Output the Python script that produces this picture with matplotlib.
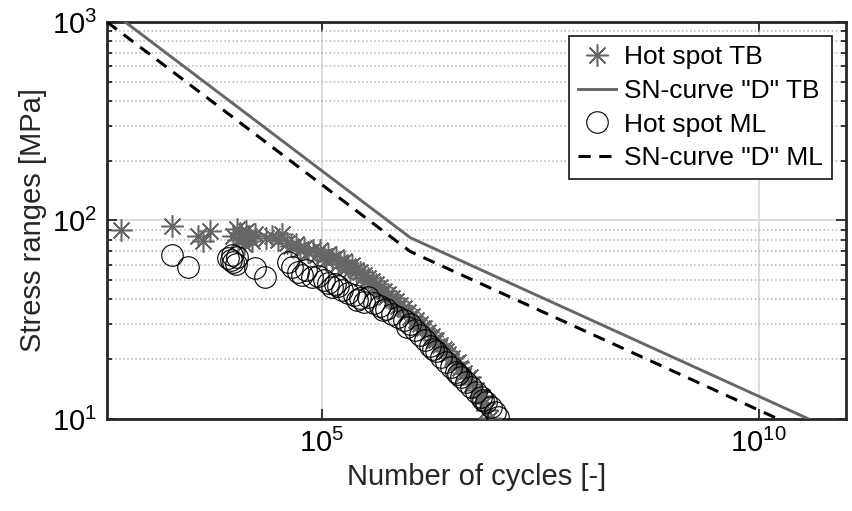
import numpy as np
import matplotlib
matplotlib.use("Agg")
import matplotlib.pyplot as plt
from matplotlib.ticker import FixedLocator, NullLocator, LogLocator

plt.rcParams["font.family"] = ["Liberation Sans", "DejaVu Sans"]
plt.rcParams["mathtext.fontset"] = "custom"
plt.rcParams["mathtext.rm"] = "Liberation Sans"
plt.rcParams["mathtext.it"] = "Liberation Sans:italic"
plt.rcParams["mathtext.bf"] = "Liberation Sans:bold"

# --- data ---
# Hot spot TB (stress range vs. cumulative number of cycles)
cycles_tb = [502, 1930, 3830, 4365, 5250, 9640, 10700, 11600, 12540, 13580,
             14690, 15920, 17220, 12880, 11000, 23010, 26980, 31550, 35080, 40090,
             44460, 50800, 56400, 62700, 69700, 79400, 88300, 95700, 106200, 118000,
             131200, 145900, 162200, 179900, 200000, 222300, 247200, 274800, 305500, 338800,
             376700, 418800, 465600, 517600, 574100, 638300, 709600, 788900, 877000, 975000,
             1.081e6, 1.202e6, 1.337e6, 1.486e6, 1.652e6, 1.832e6, 2.037e6, 2.265e6, 2.518e6, 2.799e6,
             3.112e6, 3.451e6, 3.837e6, 4.266e6, 4.742e6, 5.272e6, 5.861e6, 6.501e6, 7.228e6, 7.834e6,
             8.472e6, 112000, 153800, 210900, 289500, 397200, 545800, 748200, 1.026e6, 1.409e6,
             1.932e6, 2.655e6, 3.640e6, 5.0e6, 6.855e6]
stress_tb = [89.5, 93.8, 83.5, 78.8, 88.5, 83.5, 90.6, 86.5, 81.6, 88.5,
             83.5, 78.8, 85.5, 76.1, 79.7, 81.6, 83.5, 79.7, 85.5, 77.0,
             74.3, 76.1, 71.0, 72.6, 69.4, 71.0, 67.0, 71.0, 66.2, 67.8,
             64.0, 65.5, 61.8, 62.5, 59.0, 59.7, 56.3, 55.0, 53.1, 51.3,
             49.5, 47.9, 46.2, 44.2, 42.6, 40.7, 39.3, 37.5, 36.2, 34.6,
             33.0, 31.5, 30.1, 28.7, 27.4, 26.2, 25.0, 23.6, 22.5, 21.2,
             20.3, 19.1, 18.1, 17.1, 16.1, 15.0, 14.0, 13.1, 12.1, 11.1,
             10.1, 63.2, 60.4, 56.3, 51.3, 46.2, 41.2, 37.1, 32.7, 28.7,
             25.0, 22.0, 19.4, 16.3, 12.9]

# Hot spot ML
cycles_ml = [1930, 2940, 8450, 9380, 9640, 10700, 10420, 9140, 17220, 22390,
             41110, 45710, 53580, 59430, 66070, 77450, 90780, 106200, 118000, 131200,
             153800, 171000, 200000, 234400, 274800, 305500, 338800, 397200, 465600, 545800,
             638300, 748200, 877000, 1.026e6, 1.172e6, 1.337e6, 1.524e6, 1.741e6, 2.037e6, 2.328e6,
             2.655e6, 3.027e6, 3.451e6, 3.945e6, 4.498e6, 5.129e6, 5.861e6, 6.683e6, 7.621e6, 8.690e6,
             9.661e6, 1.047e7, 141900, 253600, 503500, 948000, 1.884e6, 3.640e6, 7.046e6]
stress_ml = [67.0, 58.3, 64.7, 67.0, 61.8, 65.5, 60.4, 63.2, 57.6, 51.9,
             61.8, 58.3, 55.0, 53.1, 56.3, 51.9, 52.5, 50.1, 48.4, 46.2,
             46.8, 44.7, 43.1, 42.2, 40.7, 38.8, 41.2, 38.4, 37.1, 35.8,
             33.8, 32.7, 31.5, 30.1, 28.1, 26.5, 25.0, 23.3, 22.0, 20.5,
             19.4, 18.3, 17.3, 16.3, 15.4, 14.5, 13.7, 12.9, 12.2, 11.5,
             10.8, 10.2, 47.9, 39.7, 35.4, 29.1, 22.5, 16.9, 12.5]

# SN-curve "D" (start, knee, end)
sn_cycles_tb = [560, 1.03e6, 3.74e10]
sn_stress_tb = [1000, 81.9, 10]
sn_cycles_ml = [347, 1.03e6, 1.68e10]
sn_stress_ml = [1000, 69.7, 10]

GRAY = "#666666"

# --- plot ---
fig = plt.figure(figsize=(8.52, 5.11), dpi=100)
ax = fig.add_axes([0.1256, 0.180, 0.8674, 0.777])

ax.plot(cycles_tb, stress_tb, ls="none", marker=(8, 2, 0), ms=16, mec=GRAY,
        mew=1.1, label="Hot spot TB", zorder=3)
ax.plot(sn_cycles_tb, sn_stress_tb, color=GRAY, lw=2.1,
        label='SN-curve "D" TB', zorder=4)
ax.plot(cycles_ml, stress_ml, ls="none", marker="o", ms=15.5, mfc="none",
        mec="black", mew=0.8, label="Hot spot ML", zorder=5)
ax.plot(sn_cycles_ml, sn_stress_ml, color="black", lw=2.2, dashes=(4, 2.8),
        label='SN-curve "D" ML', zorder=6)

ax.set_xscale("log")
ax.set_yscale("log")
ax.set_xlim(347, 1e11)
ax.set_ylim(10, 1000)

ax.xaxis.set_major_locator(FixedLocator([1e5, 1e10]))
ax.xaxis.set_minor_locator(NullLocator())
ax.yaxis.set_major_locator(LogLocator(base=10))
ax.yaxis.set_minor_locator(LogLocator(base=10, subs=np.arange(2, 10)))
ax.yaxis.set_minor_formatter(plt.NullFormatter())

# grid: solid major, dotted minor (y only)
ax.set_axisbelow(True)
ax.grid(True, which="major", color="#dcdcdc", lw=1.4, ls="-")
ax.yaxis.grid(True, which="minor", color="#b4b4b4", lw=1.1, ls=":")

ax.tick_params(which="both", direction="in", top=True, right=True,
               color="#262626", width=1.3)
ax.tick_params(which="major", length=7, labelsize=21, pad=7)
ax.tick_params(which="minor", length=3.5)
for spine in ax.spines.values():
    spine.set_linewidth(2.0)
    spine.set_edgecolor("#262626")

ax.set_xlabel("Number of cycles [-]", fontsize=21, color="#262626")
ax.set_ylabel("Stress ranges [MPa]", fontsize=21, color="#262626")

leg = ax.legend(loc="upper right", fontsize=19, fancybox=False, framealpha=1,
                edgecolor="#262626", handlelength=1.45, handletextpad=0.3,
                labelspacing=0.37, borderpad=0.33, borderaxespad=0.55)
leg.get_frame().set_linewidth(1.3)

fig.savefig("out.png", dpi=100)
